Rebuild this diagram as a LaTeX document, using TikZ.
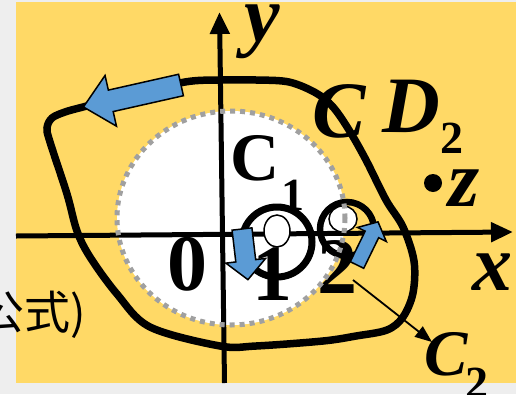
\documentclass[tikz,border=0pt]{standalone}
\usepackage{fontspec}
\setmainfont{Liberation Serif}
\newfontfamily\cjkfont{Noto Sans CJK SC}
\usetikzlibrary{arrows.meta}
\definecolor{gold}{HTML}{FFD966}
\definecolor{flowblue}{HTML}{5B9BD5}
\definecolor{pagegray}{HTML}{EEEEEE}
\definecolor{dotgray}{HTML}{A0A0A0}

\newcommand{\labsize}[1]{\fontsize{#1}{#1}\selectfont\bfseries}
% block arrow: tail, angle, length, shaft half width, head half width, head length
\newcommand{\flowarrow}[6]{%
  \begin{scope}[shift={#1}, rotate=#2]
    \draw[flowarrow] (0,-#4) -- ({#3-#6},-#4) -- ({#3-#6},-#5) -- (#3,0)
      -- ({#3-#6},#5) -- ({#3-#6},#4) -- (0,#4) -- cycle;
  \end{scope}}

\tikzset{
  axis/.style={line width=5pt, -{Triangle[length=22pt, width=19pt]}},
  contour/.style={line width=7.5pt},
  flowarrow/.style={fill=flowblue, draw=black, line width=1.5pt, line join=miter},
  point/.style={fill=white, draw=black, line width=1.5pt},
  lab/.style={inner sep=0pt, anchor=base, font=\labsize{80}},
  sublab/.style={inner sep=0pt, anchor=base, font=\labsize{46}},
  pointer/.style={line width=1.8pt, -{Triangle[length=17pt, width=13pt]}}
}

\begin{document}
\begin{tikzpicture}[x=1pt, y=-1pt]
\useasboundingbox (0,0) rectangle (516,394);

% Background
\fill[pagegray] (0,0) rectangle (516,394);
\fill[gold] (16,2) rectangle (516,383);

% --- Disc without singular points ---
\fill[white] (231,218) ellipse [x radius=114, y radius=107];

% --- Axes ---
\draw[axis] (16,236) -- (513,232);
\draw[axis] (224.5,383) -- (219.5,12);

% --- Labels under the curves ---
\node[lab, font=\labsize{68}] (cone) at (255,180) {C};
\node[sublab] (cone sub) at (293,210) {1};
\node[lab] (zero) at (187,290) {0};
\node[lab] (one) at (272,300) {1};
\node[lab] (two) at (337,293) {2};

% Contour C
\draw[contour] plot[smooth cycle, tension=0.55] coordinates {
  (386,200) (366,160) (349,130) (333,107) (316,93) (289,82) (256,80)
  (219,80) (185,82) (130,95) (83,107) (65,112) (52,118) (47,128)
  (50,142) (67,194) (77,231) (90,257) (117,294) (150,327) (220,346)
  (256,346) (323,341) (356,336) (387,330) (403,317) (413,293)
  (414,261) (403,227)};

% Small circles C_1 and C_2
\draw[line width=7pt] (277,242) circle (35);
\draw[line width=6.5pt] (347,229) circle (27);

% Singular points
\draw[point] (277,231) ellipse [x radius=13, y radius=16];
\draw[point] (343,219) ellipse [x radius=14, y radius=13];

% dotted boundary of the disc
\draw[dotgray, line width=5pt, dash pattern=on 5pt off 5pt]
  (231,218) ellipse [x radius=114, y radius=107];

% --- Orientation arrows ---
\flowarrow{(181,85)}{192.7}{100}{11}{26}{28}
\flowarrow{(242,229)}{276.7}{51}{10}{20}{19}
\flowarrow{(357,265)}{64}{48}{7.5}{16}{14}

% --- Labels ---
\node[lab] (ylab) at (262,41) {\itshape y};
\node[lab] (xlab) at (492,290) {\itshape x};
\node[lab] (clab) at (339,137) {\itshape C};
\node[lab] (dlab) at (411,132) {\itshape D};
\node[sublab] (dlab sub) at (452,153) {2};
\fill (433,183) circle (9);
\node[lab] (zlab) at (464,206) {\itshape z};
\node[lab, font=\labsize{65}] (ctwo) at (446,375) {\itshape C};
\node[sublab] (ctwo sub) at (477,398) {2};
\node[inner sep=0pt, anchor=base east, font={\cjkfont\fontsize{46}{46}\selectfont}]
  (note) at (86,329) {公式)};

% pointer from 2 to C_2
\coordinate (ptr start) at (353,280);
\coordinate (ptr end) at (432,342);
\draw[pointer] (ptr start) -- (ptr end);

\end{tikzpicture}
\end{document}
